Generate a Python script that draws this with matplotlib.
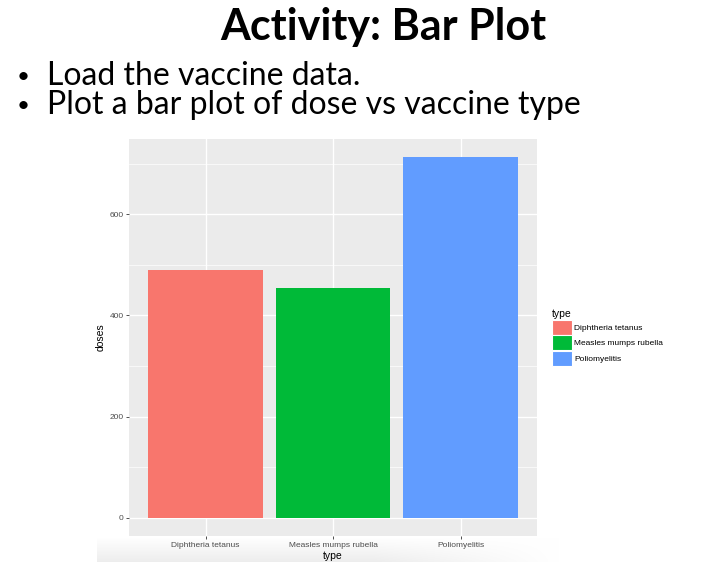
import numpy as np
import matplotlib
matplotlib.use('Agg')
import matplotlib.pyplot as plt
from matplotlib.patches import Patch

# data
vaccine_types = ['Diphtheria tetanus', 'Measles mumps rubella', 'Poliomyelitis']
doses = [489, 454, 713]
fill_colors = ['#F8766D', '#00BA38', '#619CFF']

plt.rcParams['font.family'] = ['Liberation Sans', 'DejaVu Sans']

W, H = 702, 569
fig = plt.figure(figsize=(W / 100, H / 100), dpi=100)
fig.patch.set_facecolor('white')

def fx(px):
    return px / W

def fy(py):
    return 1 - py / H

# slide text
fig.text(fx(383), fy(27), 'Activity: Bar Plot', ha='center', va='center',
         fontsize=31, fontweight='bold', family='Lato', color='black')
fig.text(fx(17), fy(77), '\u2022', ha='left', va='center', fontsize=16, family='Lato')
fig.text(fx(47), fy(76), 'Load the vaccine data.', ha='left', va='center',
         fontsize=23, family='Lato', color='black')
fig.text(fx(17), fy(106), '\u2022', ha='left', va='center', fontsize=16, family='Lato')
fig.text(fx(47), fy(105), 'Plot a bar plot of dose vs vaccine type', ha='left', va='center',
         fontsize=23, family='Lato', color='black')

# faded strip at bottom of the pasted chart image
grad_ax = fig.add_axes([fx(97), fy(562), fx(560) - fx(97), fy(538) - fy(562)])
g = np.linspace(1.0, 0.93, 40)[:, None] * np.ones((1, 200))
fade = np.clip(np.linspace(-1.5, 1.0, 200), 0, 1)[None, :]
g = 1 - (1 - g) * (1 - fade)
grad_ax.imshow(np.dstack([g, g, g]), aspect='auto', origin='upper')
grad_ax.axis('off')

# ggplot-style panel
ax = fig.add_axes([fx(129), fy(536), fx(537) - fx(129), fy(139) - fy(536)])
ax.set_facecolor('#EBEBEB')
x = np.arange(1, len(vaccine_types) + 1)
ax.bar(x, doses, width=0.9, color=fill_colors, zorder=3)

ymax = max(doses)
ax.set_ylim(-0.05 * ymax, ymax * 1.05)
ax.set_xlim(0.4, 3.6)

ax.set_yticks([0, 200, 400, 600])
ax.set_yticks([100, 300, 500, 700], minor=True)
ax.set_xticks(x)
ax.set_xticklabels(vaccine_types)
ax.grid(which='major', color='white', linewidth=1.0, zorder=0)
ax.grid(which='minor', axis='y', color='white', linewidth=0.5, zorder=0)
ax.set_axisbelow(True)
for s in ax.spines.values():
    s.set_visible(False)
ax.tick_params(which='major', length=2.5, width=0.6, color='#333333',
               labelsize=6, labelcolor='#4D4D4D', pad=1.5)
ax.tick_params(which='minor', length=0)
ax.set_xlabel('type', fontsize=7.5, color='black', labelpad=1.5)
ax.set_ylabel('doses', fontsize=7.5, color='black', labelpad=3)

handles = [Patch(facecolor=c, edgecolor='white', linewidth=0.8, label=t)
           for c, t in zip(fill_colors, vaccine_types)]
leg = fig.legend(handles=handles, loc='upper left', bbox_to_anchor=(fx(548), fy(305)),
                 title='type', frameon=False, fontsize=6, title_fontsize=7.5,
                 handlelength=2.4, handleheight=2.4, handletextpad=0.25,
                 labelspacing=0.05, borderpad=0)
leg._legend_box.align = 'left'

fig.savefig('out.png', dpi=100)
